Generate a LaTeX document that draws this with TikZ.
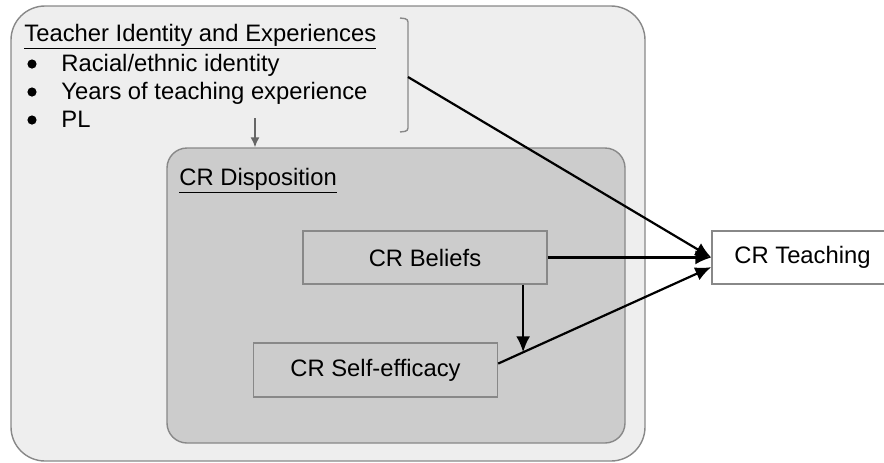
\documentclass[tikz,border=0pt]{standalone}
\usepackage{fontspec}
\setmainfont{Liberation Sans}
\usepackage{xcolor}
\usetikzlibrary{arrows.meta}
\definecolor{outerfill}{HTML}{EEEEEE}
\definecolor{innerfill}{HTML}{CCCCCC}
\definecolor{edgegray}{HTML}{888888}
\tikzset{
  cbox/.style={draw=edgegray, fill=innerfill, line width=0.7pt, minimum width=122pt, minimum height=26.5pt, inner sep=0pt},
  flow/.style={-{Latex[length=8pt,width=7pt]}, line width=1.1pt},
  txt/.style={anchor=base west, inner sep=0pt},
  dot/.style={circle, fill=black, inner sep=0pt, minimum size=4.6pt}
}
\begin{document}
\begin{tikzpicture}[x=0.5pt,y=-0.5pt, every node/.style={font=\fontsize{11.9}{14}\selectfont}]
\useasboundingbox (0,0) rectangle (884,462);
\clip (0,0) rectangle (884,462);
\node[draw=edgegray, fill=outerfill, line width=0.7pt, rounded corners=17pt, minimum width=317pt, minimum height=227.5pt] (outer) at (328,233.5) {};
\node[draw=edgegray, fill=innerfill, line width=0.7pt, rounded corners=10pt, minimum width=229pt, minimum height=147.5pt] (disp) at (396,295.5) {};
\node[txt] (ident) at (24,41) {\underline{Teacher Identity and Experiences}};
\node[dot] (bul1) at (32,64) {};
\node[dot] (bul2) at (32,92) {};
\node[dot] (bul3) at (32,120) {};
\node[txt] (race) at (61,71) {Racial/ethnic identity};
\node[txt] (years) at (61,99) {Years of teaching experience};
\node[txt] (pl) at (61,127) {PL};
\draw[edgegray, line width=0.7pt, rounded corners=1.5pt] (400,18) -- (408,19) -- (408,131) -- (400,132);
\coordinate (brk) at (408,77);
\coordinate (gtop) at (255,118);
\draw[black!60, line width=0.8pt, -{Latex[length=5pt,width=4.5pt]}] (gtop) -- (gtop |- disp.north);
\node[txt] (disptitle) at (179,185) {\underline{CR Disposition}};
\node[cbox] (bel) at (425,257.5) {CR Beliefs};
\node[cbox, minimum height=27pt] (self) at (375.5,370) {CR Self-efficacy};
\node[cbox, fill=white, minimum width=90.5pt] (teach) at (802.5,257.5) {CR Teaching};
\draw[flow] (brk) -- (teach.west);
\draw[flow] (bel) -- (teach);
\draw[flow] (self.3) -- coordinate[pos=0.117] (meet) (teach.186.6);
\draw[flow] (bel.south -| meet) -- (meet);
\end{tikzpicture}
\end{document}
